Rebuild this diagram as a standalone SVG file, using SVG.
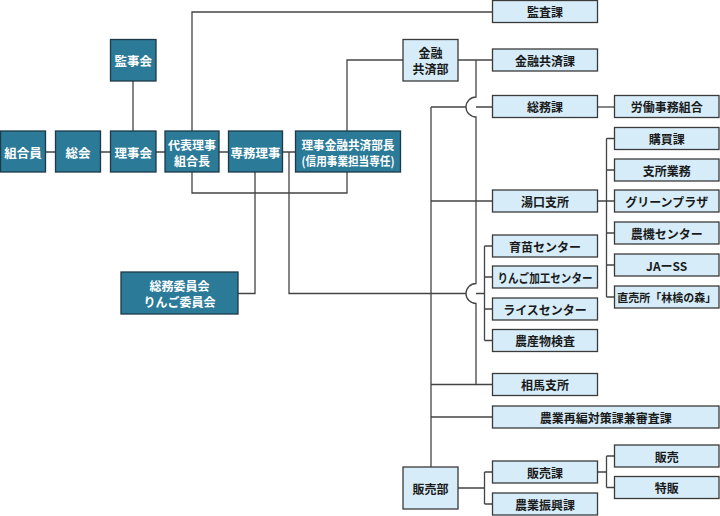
<svg xmlns="http://www.w3.org/2000/svg" width="720" height="516" viewBox="0 0 720 516">
<style>
.d rect{fill:#2b7a98;stroke:#1c3a48;stroke-width:1.3}
.l rect{fill:#d6edf9;stroke:#3a3a3a;stroke-width:1.3}
text{font-family:"Noto Sans CJK JP","Noto Sans",sans-serif;font-weight:bold;font-size:12px;text-anchor:middle;dominant-baseline:central}
.d text{fill:#ffffff;font-size:12.5px}
.d text.s{font-size:12px}
.l text{fill:#1a1a1a}
.l text.t{font-size:11px}
#connectors path{fill:none;stroke:#444;stroke-width:1.3}
</style>
<rect width="720" height="516" fill="#ffffff"/>
<g id="connectors">
<path d="M45 152H55M100 152H110M156 152H165M219 152H228M283 152H296"/>
<path d="M133 81V131"/>
<path d="M192 131V12H492.5"/>
<path d="M192 172V193H347V172"/>
<path d="M347 131V60H403"/>
<path d="M458 60H492.5"/>
<path d="M476 60V97A10 10 0 0 0 476 117V283.5A10 10 0 0 0 476 303.5V384.5H492.5"/>
<path d="M431 107H466M476 107H492.5"/>
<path d="M597.5 107H614.5"/>
<path d="M431 107V467"/>
<path d="M431 201H492.5M431 384.5H476M431 417H492.5"/>
<path d="M255 172V293.5H238"/>
<path d="M289 152V293.5H466M476 293.5H484.5"/>
<path d="M484.5 246V340.5M484.5 246H492.5M484.5 277H492.5M484.5 309H492.5M484.5 340.5H492.5"/>
<path d="M597.5 201H606.5M606.5 138.5V297M606.5 138.5H614.5M606.5 170H614.5M606.5 201H614.5M606.5 233H614.5M606.5 265H614.5M606.5 297H614.5"/>
<path d="M458 488H484.5M484.5 472V504M484.5 472H492.5M484.5 504H492.5"/>
<path d="M597.5 472H606.5M606.5 456V487.5M606.5 456H614.5M606.5 487.5H614.5"/>
</g>
<g id="kumiaiin" class="d"><rect x="0.5" y="131" width="45" height="41"/><text x="23" y="152">組合員</text></g>
<g id="sokai" class="d"><rect x="55.5" y="131" width="45" height="41"/><text x="78" y="152">総会</text></g>
<g id="rijikai" class="d"><rect x="110.5" y="131" width="45.5" height="41"/><text x="133.2" y="152">理事会</text></g>
<g id="kanjikai" class="d"><rect x="110.5" y="39.5" width="45.5" height="41.5"/><text x="133.2" y="60.5">監事会</text></g>
<g id="daihyo" class="d"><rect x="165" y="131" width="54" height="41"/><text class="s" x="192" y="144">代表理事</text><text class="s" x="192" y="160">組合長</text></g>
<g id="senmu" class="d"><rect x="228.5" y="131" width="54" height="41"/><text x="255.5" y="152">専務理事</text></g>
<g id="kinyubucho" class="d"><rect x="295.5" y="131" width="105" height="41"/><text class="s" x="348" y="144" textLength="93" lengthAdjust="spacingAndGlyphs">理事金融共済部長</text><text class="s" x="348" y="160" textLength="93" lengthAdjust="spacingAndGlyphs">(信用事業担当専任)</text></g>
<g id="iinkai" class="d"><rect x="121" y="272" width="117" height="42"/><text class="s" x="179.5" y="285.5">総務委員会</text><text class="s" x="179.5" y="301.5">りんご委員会</text></g>
<g id="kansaka" class="l"><rect x="492.5" y="0.5" width="105" height="22"/><text x="545" y="11.5">監査課</text></g>
<g id="kinyubu" class="l"><rect x="403" y="39.5" width="55" height="41.5"/><text x="430.5" y="52.5">金融</text><text x="430.5" y="68.5">共済部</text></g>
<g id="kinyuka" class="l"><rect x="492.5" y="49" width="105" height="22"/><text x="545" y="60">金融共済課</text></g>
<g id="somuka" class="l"><rect x="492.5" y="95.5" width="105" height="22"/><text x="545" y="106.5">総務課</text></g>
<g id="rodo" class="l"><rect x="614.5" y="95.5" width="104.5" height="22"/><text x="666.7" y="106.5">労働事務組合</text></g>
<g id="kobai" class="l"><rect x="614.5" y="127.5" width="104.5" height="22"/><text x="666.7" y="138.5">購買課</text></g>
<g id="shisho" class="l"><rect x="614.5" y="159" width="104.5" height="22"/><text x="666.7" y="170">支所業務</text></g>
<g id="green" class="l"><rect x="614.5" y="190" width="104.5" height="22"/><text x="666.7" y="201">グリーンプラザ</text></g>
<g id="noki" class="l"><rect x="614.5" y="222" width="104.5" height="22"/><text x="666.7" y="233">農機センター</text></g>
<g id="jass" class="l"><rect x="614.5" y="254" width="104.5" height="22"/><text x="666.7" y="265">JAーSS</text></g>
<g id="chokubai" class="l"><rect x="614.5" y="286" width="104.5" height="22"/><text class="t" x="666.7" y="297">直売所「林檎の森」</text></g>
<g id="yuguchi" class="l"><rect x="492.5" y="190" width="105" height="22"/><text x="545" y="201">湯口支所</text></g>
<g id="ikubyo" class="l"><rect x="492.5" y="235" width="105" height="22"/><text x="545" y="246">育苗センター</text></g>
<g id="ringo" class="l"><rect x="492.5" y="266" width="105" height="22"/><text x="545" y="277" textLength="95" lengthAdjust="spacingAndGlyphs">りんご加工センター</text></g>
<g id="rice" class="l"><rect x="492.5" y="298" width="105" height="22"/><text x="545" y="309">ライスセンター</text></g>
<g id="kensa" class="l"><rect x="492.5" y="329.5" width="105" height="22"/><text x="545" y="340.5">農産物検査</text></g>
<g id="soma" class="l"><rect x="492.5" y="373.5" width="105" height="22"/><text x="545" y="384.5">相馬支所</text></g>
<g id="saihen" class="l"><rect x="492.5" y="406" width="226.5" height="22"/><text x="605.7" y="417">農業再編対策課兼審査課</text></g>
<g id="hanbaibu" class="l"><rect x="403" y="467" width="55" height="42"/><text x="430.5" y="488">販売部</text></g>
<g id="hanbaika" class="l"><rect x="492.5" y="461" width="105" height="22"/><text x="545" y="472">販売課</text></g>
<g id="shinko" class="l"><rect x="492.5" y="493" width="105" height="22"/><text x="545" y="504">農業振興課</text></g>
<g id="hanbai" class="l"><rect x="614.5" y="445" width="104.5" height="22"/><text x="666.7" y="456">販売</text></g>
<g id="tokuhan" class="l"><rect x="614.5" y="476.5" width="104.5" height="22"/><text x="666.7" y="487.5">特販</text></g>
</svg>
